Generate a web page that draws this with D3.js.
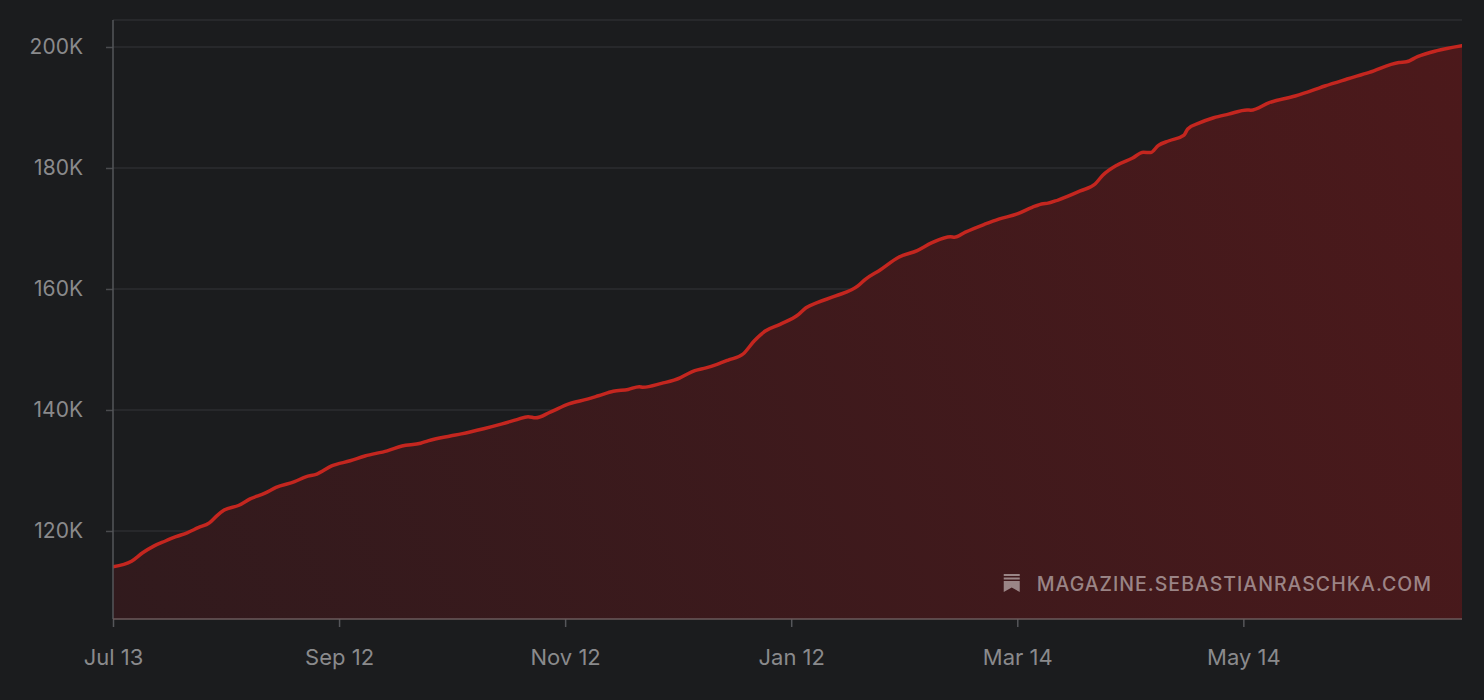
<!DOCTYPE html>
<html>
<head>
<meta charset="utf-8">
<script src="https://cdn.jsdelivr.net/npm/d3@7"></script>
<style>
  html, body { margin: 0; padding: 0; background: #1b1c1e; }
  svg { display: block; }
  text { font-family: Inter, "Noto Sans", sans-serif; }
</style>
</head>
<body>
<script>
// star history
var dates = [
  "2024-07-13", "2024-07-18", "2024-07-21", "2024-07-24", "2024-07-27", "2024-07-30",
  "2024-08-02", "2024-08-05", "2024-08-08", "2024-08-10", "2024-08-12", "2024-08-16",
  "2024-08-19", "2024-08-23", "2024-08-26", "2024-08-31", "2024-09-03", "2024-09-06",
  "2024-09-10", "2024-09-15", "2024-09-19", "2024-09-25", "2024-09-29", "2024-10-04",
  "2024-10-06", "2024-10-12", "2024-10-15", "2024-10-21", "2024-10-26", "2024-10-30",
  "2024-11-02", "2024-11-04", "2024-11-08", "2024-11-13", "2024-11-18", "2024-11-21",
  "2024-11-25", "2024-11-29", "2024-12-02", "2024-12-03", "2024-12-08", "2024-12-13",
  "2024-12-15", "2024-12-17", "2024-12-20", "2024-12-23", "2024-12-26", "2024-12-30",
  "2025-01-02", "2025-01-05", "2025-01-09", "2025-01-14", "2025-01-16", "2025-01-19",
  "2025-01-24", "2025-01-30", "2025-02-01", "2025-02-05", "2025-02-10", "2025-02-15",
  "2025-02-19", "2025-02-24", "2025-02-25", "2025-02-28", "2025-03-05", "2025-03-09",
  "2025-03-14", "2025-03-18", "2025-03-21", "2025-03-22", "2025-03-25", "2025-03-31",
  "2025-04-04", "2025-04-06", "2025-04-10", "2025-04-14", "2025-04-17", "2025-04-19",
  "2025-04-21", "2025-04-24", "2025-04-28", "2025-04-29", "2025-05-02", "2025-05-06",
  "2025-05-10", "2025-05-15", "2025-05-16", "2025-05-21", "2025-05-28", "2025-06-02",
  "2025-06-05", "2025-06-11", "2025-06-17", "2025-06-25", "2025-06-27", "2025-06-30",
  "2025-07-05", "2025-07-12"
];
var stars = [
  114100, 115000, 116400, 117500, 118300, 119050,
  119700, 120550, 121350, 122500, 123450, 124250,
  125300, 126250, 127200, 128150, 128950, 129400,
  130750, 131600, 132400, 133250, 134050, 134500,
  134900, 135700, 136050, 136900, 137700, 138400,
  138900, 138700, 139650, 141000, 141800, 142350,
  143100, 143400, 143850, 143750, 144400, 145300,
  145950, 146500, 146950, 147550, 148250, 149250,
  151400, 153050, 154150, 155800, 156900, 157750,
  158850, 160500, 161600, 163150, 165250, 166350,
  167650, 168650, 168550, 169400, 170650, 171550,
  172400, 173500, 174100, 174150, 174700, 176200,
  177350, 178750, 180500, 181600, 182600, 182550,
  183700, 184500, 185450, 186450, 187400, 188300,
  188900, 189600, 189550, 190800, 191900, 192900,
  193550, 194700, 195800, 197450, 197550, 198400,
  199350, 200200
];
var xDomain = ["2024-07-13", "2025-07-12"];
var yDomain = [105450, 204460];
var xTicks = ["2024-07-13", "2024-09-12", "2024-11-12", "2025-01-12", "2025-03-14", "2025-05-14"];
var xTickLabels = ["Jul 13", "Sep 12", "Nov 12", "Jan 12", "Mar 14", "May 14"];
var yTicks = [120000, 140000, 160000, 180000, 200000];
var watermark = "MAGAZINE.SEBASTIANRASCHKA.COM";

var margin = { top: 20, right: 22, bottom: 81, left: 113 },
    width = 1484 - margin.left - margin.right,
    height = 700 - margin.top - margin.bottom;

var parse = d3.timeParse("%Y-%m-%d");
var data = dates.map(function (d, i) { return { date: parse(d), value: stars[i] }; });

var x = d3.scaleTime().domain(xDomain.map(parse)).range([0, width]);
var y = d3.scaleLinear().domain(yDomain).range([height, 0]);

var svg = d3.select("body").append("svg")
    .attr("width", 1484)
    .attr("height", 700);

var defs = svg.append("defs");
var grad = defs.append("linearGradient")
    .attr("id", "fillGrad")
    .attr("gradientUnits", "userSpaceOnUse")
    .attr("x1", 0).attr("y1", height)
    .attr("x2", width).attr("y2", 0);
grad.append("stop").attr("offset", "0%").attr("stop-color", "#311a1d");
grad.append("stop").attr("offset", "100%").attr("stop-color", "#4c191b");

defs.append("clipPath").attr("id", "plotClip")
  .append("rect").attr("x", 0).attr("y", -4).attr("width", width).attr("height", height + 4);

var g = svg.append("g")
    .attr("transform", "translate(" + margin.left + "," + margin.top + ")");

// top border
g.append("line")
    .attr("x1", 0).attr("x2", width)
    .attr("y1", 0).attr("y2", 0)
    .attr("stroke", "#2c2d30").attr("stroke-width", 1.5);

// gridlines
g.selectAll(".grid")
    .data(yTicks)
    .enter().append("line")
    .attr("class", "grid")
    .attr("x1", 0).attr("x2", width)
    .attr("y1", function (d) { return y(d); })
    .attr("y2", function (d) { return y(d); })
    .attr("stroke", "#2c2d30").attr("stroke-width", 1.5);

// area + line
var area = d3.area()
    .curve(d3.curveMonotoneX)
    .x(function (d) { return x(d.date); })
    .y0(height)
    .y1(function (d) { return y(d.value); });

var line = d3.line()
    .curve(d3.curveMonotoneX)
    .x(function (d) { return x(d.date); })
    .y(function (d) { return y(d.value); });

var plot = g.append("g").attr("clip-path", "url(#plotClip)");

plot.append("path")
    .datum(data)
    .attr("fill", "url(#fillGrad)")
    .attr("d", area);

plot.append("path")
    .datum(data)
    .attr("fill", "none")
    .attr("stroke", "#c4261f")
    .attr("stroke-width", 3.5)
    .attr("stroke-linejoin", "round")
    .attr("stroke-linecap", "round")
    .attr("d", line);

// y axis
var yAxis = g.append("g")
    .call(d3.axisLeft(y)
        .tickValues(yTicks)
        .tickSize(7)
        .tickPadding(23)
        .tickFormat(function (d) { return d / 1000 + "K"; }));
yAxis.select(".domain").remove();
yAxis.selectAll(".tick line").attr("stroke", "#4a4b4e").attr("stroke-width", 1.5);
yAxis.selectAll(".tick text")
    .attr("fill", "#8a8a8c")
    .style("font-size", "21px");

g.append("line")
    .attr("x1", 0).attr("x2", 0)
    .attr("y1", 0).attr("y2", height)
    .attr("stroke", "#55565a").attr("stroke-width", 1.5);

// x axis
var xAxis = g.append("g")
    .attr("transform", "translate(0," + height + ")")
    .call(d3.axisBottom(x)
        .tickValues(xTicks.map(parse))
        .tickSize(8)
        .tickPadding(22)
        .tickFormat(function (d, i) { return xTickLabels[i]; }));
xAxis.select(".domain").remove();
xAxis.selectAll(".tick line").attr("stroke", "#55565a").attr("stroke-width", 1.5);
xAxis.selectAll(".tick text")
    .attr("fill", "#8a8a8c")
    .style("font-size", "22px");

g.append("line")
    .attr("x1", 0).attr("x2", width)
    .attr("y1", height).attr("y2", height)
    .attr("stroke", "#6b5a5b").attr("stroke-width", 1.5);

// watermark
var wm = g.append("g")
    .attr("transform", "translate(" + (width - 30) + "," + (height - 28) + ")");
var wmText = wm.append("text")
    .attr("text-anchor", "end")
    .attr("fill", "rgba(255,255,255,0.47)")
    .style("font-size", "19.5px")
    .style("font-weight", 500)
    .style("letter-spacing", "1px")
    .text(watermark);
var textW = wmText.node().getComputedTextLength();
var icon = wm.append("g")
    .attr("transform", "translate(" + (-textW - 33) + "," + (-17) + ")")
    .attr("fill", "rgba(255,255,255,0.47)");
icon.append("rect").attr("x", 0).attr("y", 0).attr("width", 16).attr("height", 2);
icon.append("rect").attr("x", 0).attr("y", 3.5).attr("width", 16).attr("height", 2);
icon.append("path").attr("d", "M0,7 H16 V18 L8,13.5 L0,18 Z");
</script>
</body>
</html>
